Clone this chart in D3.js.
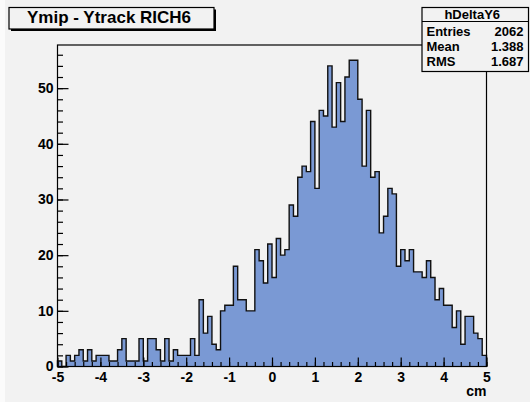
<!DOCTYPE html>
<html>
<head>
<meta charset="utf-8">
<script src="https://cdn.jsdelivr.net/npm/d3@7"></script>
<style>
  body { margin: 0; background: #f2f2f2; }
  text { font-family: "Liberation Sans", Arial, sans-serif; font-weight: bold; fill: #000; }
</style>
</head>
<body>
<div id="chart"></div>
<script>
// histogram hDeltaY6: 100 bins from -5 to 5 cm
var xMin = -5, xMax = 5;
var counts = [
    1, 0, 2, 1, 2, 3, 1, 3, 1, 2,
    2, 2, 1, 1, 3, 5, 1, 1, 1, 5,
    1, 5, 5, 3, 1, 5, 1, 3, 2, 2,
    2, 5, 2, 12, 6, 9, 4, 3, 10, 11,
    11, 18, 12, 12, 10, 10, 21, 19, 15, 22,
    16, 23, 20, 21, 29, 27, 34, 36, 35, 44,
    32, 46, 45, 54, 43, 51, 44, 52, 55, 55,
    48, 36, 46, 34, 35, 24, 27, 32, 31, 18,
    21, 19, 21, 17, 17, 16, 19, 16, 12, 14,
    11, 11, 7, 10, 4, 9, 9, 6, 5, 2
];
var xTicks = [-5, -4, -3, -2, -1, 0, 1, 2, 3, 4, 5];
var yTicks = [0, 10, 20, 30, 40, 50];
var titleText = "Ymip - Ytrack RICH6";
var statName = "hDeltaY6";
var statLabels = ["Entries", "Mean", "RMS"];
var statValues = ["2062", "1.388", "1.687"];
var xTitle = "cm";

var width = 530, height = 402;
var padL = 57.5, padR = 486.5, padT = 45, padB = 366.5;
var fillColor = "rgb(122,153,212)";

var binW = (xMax - xMin) / counts.length;
var bins = counts.map((c, i) => ({x0: xMin + i * binW, x1: xMin + (i + 1) * binW, n: c}));

var xScale = d3.scaleLinear().domain([xMin, xMax]).range([padL, padR]);
var yScale = d3.scaleLinear().domain([0, d3.max(counts) * 1.05]).range([padB, padT]);

var svg = d3.select("#chart").append("svg")
    .attr("width", width)
    .attr("height", height)
    .style("display", "block");

svg.append("rect").attr("width", width).attr("height", height).style("fill", "#f2f2f2");
svg.append("rect").attr("width", 5).attr("height", height).style("fill", "#fbfbfb");

/* histogram as a step path */
var pts = [[xScale(xMin), yScale(0)]];
bins.forEach(b => {
    pts.push([xScale(b.x0), yScale(b.n)]);
    pts.push([xScale(b.x1), yScale(b.n)]);
});
pts.push([xScale(xMax), yScale(0)]);
var line = d3.line();

svg.append("path")
    .attr("d", line(pts) + "Z")
    .style("fill", fillColor)
    .style("stroke", "none");
svg.append("path")
    .attr("d", line(pts))
    .style("fill", "none")
    .style("stroke", "#111")
    .style("stroke-width", 1.4);

/* axes, ticks point inwards like ROOT */
var fmt = d => String(d);
var xMinor = d3.range(0, 51).map(i => xMin + i * 0.2);
var yMinor = d3.range(0, 29).map(i => i * 2);

svg.append("g")
    .attr("transform", `translate(0, ${padB})`)
    .call(d3.axisBottom(xScale).tickValues(xMinor).tickSize(-4.5).tickFormat(""))
    .call(g => g.select(".domain").remove());
var xAxis = svg.append("g")
    .attr("class", "x axis")
    .attr("transform", `translate(0, ${padB})`)
    .call(d3.axisBottom(xScale).tickValues(xTicks).tickSize(-9).tickPadding(6).tickFormat(fmt));
xAxis.select(".domain").remove();

svg.append("g")
    .attr("transform", `translate(${padL}, 0)`)
    .call(d3.axisLeft(yScale).tickValues(yMinor).tickSize(-5.5).tickFormat(""))
    .call(g => g.select(".domain").remove());
var yAxis = svg.append("g")
    .attr("class", "y axis")
    .attr("transform", `translate(${padL}, 0)`)
    .call(d3.axisLeft(yScale).tickValues(yTicks).tickSize(-11).tickPadding(4).tickFormat(fmt));
yAxis.select(".domain").remove();

svg.selectAll(".tick line").style("stroke", "#000").style("stroke-width", 1.2);
svg.selectAll(".tick text")
    .style("font-size", "14px")
    .style("font-family", "'Liberation Sans', Arial, sans-serif")
    .style("font-weight", "bold")
    .style("fill", "#000");

svg.append("text")
    .attr("x", padR)
    .attr("y", 396)
    .attr("text-anchor", "end")
    .style("font-size", "14px")
    .text(xTitle);

/* frame */
svg.append("rect")
    .attr("x", padL).attr("y", padT)
    .attr("width", padR - padL).attr("height", padB - padT)
    .style("fill", "none")
    .style("stroke", "#000")
    .style("stroke-width", 1.2);

/* title box */
svg.append("rect")
    .attr("x", 11).attr("y", 9.5).attr("width", 205).attr("height", 21.5)
    .style("fill", "#000");
svg.append("rect")
    .attr("x", 9).attr("y", 7.5).attr("width", 205).attr("height", 21.5)
    .style("fill", "#f2f2f2").style("stroke", "#000").style("stroke-width", 1.2);
svg.append("text")
    .attr("x", 27).attr("y", 23)
    .style("font-size", "17px")
    .text(titleText);

/* stats box */
var sx = 422, sy = 7.5, sw = 106.5, sh = 64;
svg.append("rect")
    .attr("x", sx).attr("y", sy).attr("width", sw).attr("height", sh)
    .style("fill", "#f2f2f2").style("stroke", "#000").style("stroke-width", 1.2);
svg.append("line")
    .attr("x1", sx).attr("x2", sx + sw).attr("y1", 21.5).attr("y2", 21.5)
    .style("stroke", "#000").style("stroke-width", 1.2);
svg.append("text")
    .attr("x", sx + sw / 2 - 3).attr("y", 18.5)
    .attr("text-anchor", "middle")
    .style("font-size", "13px")
    .text(statName);

var rowY = d3.scalePoint().domain(statLabels).range([35.5, 65.5]);
svg.selectAll(".stat-label")
    .data(statLabels).enter()
    .append("text")
    .attr("class", "stat-label")
    .attr("x", 426.5)
    .attr("y", d => rowY(d))
    .style("font-size", "13px")
    .text(d => d);
svg.selectAll(".stat-value")
    .data(statValues).enter()
    .append("text")
    .attr("class", "stat-value")
    .attr("x", 523.5)
    .attr("y", (d, i) => rowY(statLabels[i]))
    .attr("text-anchor", "end")
    .style("font-size", "13px")
    .text(d => d);
</script>
</body>
</html>
